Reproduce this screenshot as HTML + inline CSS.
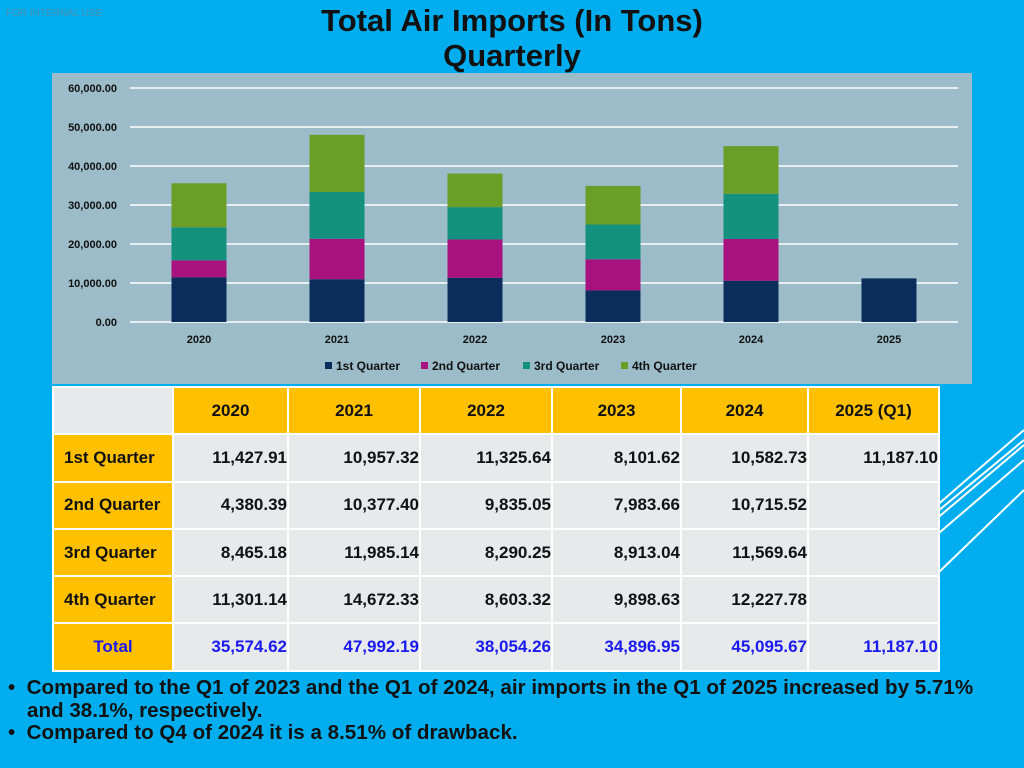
<!DOCTYPE html>
<html><head><meta charset="utf-8"><style>
body{margin:0;width:1024px;height:768px;background:#00AEEF;position:relative;overflow:hidden;font-family:"Liberation Sans",sans-serif}
.abs{position:absolute}
table{border-collapse:collapse;position:absolute;left:52px;top:386px;table-layout:fixed}
td{border:2px solid #fff;height:45.3px;font-weight:bold;font-size:17px;text-align:right;padding:0;background:#E8E9EB;color:#111}
td.h{background:#FFC000;text-align:center}
td.l{background:#FFC000;text-align:left;padding-left:10px}
tr.tot td{color:#1a1aee}
</style></head><body>
<div class="abs" style="left:6px;top:8px;font-size:10px;color:#4a8fb0">FOR INTERNAL USE</div>
<div class="abs" style="left:0;width:1024px;top:3px;text-align:center;font-size:31px;font-weight:bold;line-height:35px;color:#111">Total Air Imports (In Tons)<br>Quarterly</div>
<svg class="abs" style="left:0;top:0" width="1024" height="768">
<g stroke="#fff" stroke-width="2">
<line x1="910" y1="600" x2="1024" y2="490"/><line x1="925" y1="545" x2="1024" y2="460"/><line x1="915" y1="530" x2="1024" y2="440"/><line x1="920" y1="520" x2="1024" y2="430"/><line x1="935" y1="520" x2="1024" y2="445"/>
</g>
<rect x="52" y="73" width="920" height="311" fill="#9BBCC8"/>
<g id="plot"></g>
</svg>
<table>
<colgroup><col style="width:120px"><col style="width:115px"><col style="width:132px"><col style="width:132px"><col style="width:129px"><col style="width:127px"><col style="width:131px"></colgroup>
<tr><td style="background:#E8E9EB"></td><td class="h">2020</td><td class="h">2021</td><td class="h">2022</td><td class="h">2023</td><td class="h">2024</td><td class="h">2025 (Q1)</td></tr>
<tr><td class="l">1st Quarter</td><td>11,427.91</td><td>10,957.32</td><td>11,325.64</td><td>8,101.62</td><td>10,582.73</td><td>11,187.10</td></tr>
<tr><td class="l">2nd Quarter</td><td>4,380.39</td><td>10,377.40</td><td>9,835.05</td><td>7,983.66</td><td>10,715.52</td><td></td></tr>
<tr><td class="l">3rd Quarter</td><td>8,465.18</td><td>11,985.14</td><td>8,290.25</td><td>8,913.04</td><td>11,569.64</td><td></td></tr>
<tr><td class="l">4th Quarter</td><td>11,301.14</td><td>14,672.33</td><td>8,603.32</td><td>9,898.63</td><td>12,227.78</td><td></td></tr>
<tr class="tot"><td class="l" style="text-align:center;padding:0">Total</td><td>35,574.62</td><td>47,992.19</td><td>38,054.26</td><td>34,896.95</td><td>45,095.67</td><td>11,187.10</td></tr>
</table>
<div class="abs" style="left:8px;top:677px;font-size:20.6px;font-weight:bold;line-height:22.5px;color:#111">
<div style="padding-left:19px;text-indent:-19px">•&nbsp; Compared to the Q1 of 2023 and the Q1 of 2024, air imports in the Q1 of 2025 increased by 5.71%<br>and 38.1%, respectively.</div>
<div style="padding-left:19px;text-indent:-19px">•&nbsp; Compared to Q4 of 2024 it is a 8.51% of drawback.</div>
</div>
<script>
const categories=["2020","2021","2022","2023","2024","2025"];
const seriesNames=["1st Quarter","2nd Quarter","3rd Quarter","4th Quarter"];
const q1=[11427.91,10957.32,11325.64,8101.62,10582.73,11187.10];
const q2=[4380.39,10377.40,9835.05,7983.66,10715.52,0];
const q3=[8465.18,11985.14,8290.25,8913.04,11569.64,0];
const q4=[11301.14,14672.33,8603.32,9898.63,12227.78,0];
const yTicks=[0,10000,20000,30000,40000,50000,60000];
const colors=["#0B2D5B","#A8127F","#14907F","#6A9E27"];
const NS="http://www.w3.org/2000/svg";
const g=document.getElementById('plot');
const y=v=>322-v*(234/60000);
const x=i=>199+i*138;
function mk(t,a){const e=document.createElementNS(NS,t);for(const k in a)e.setAttribute(k,a[k]);g.appendChild(e);return e;}
yTicks.forEach(v=>{
 const l=mk('line',{x1:130,x2:958,y1:y(v),y2:y(v),stroke:'#fff','stroke-width':1.5});
 
 
 const t=mk('text',{x:117,y:y(v)+4,'text-anchor':'end','font-size':11,'font-weight':'bold',fill:'#111'});
 t.textContent=v.toLocaleString('en-US',{minimumFractionDigits:2});
 
 
});
const series=[q1,q2,q3,q4];
categories.forEach((c,i)=>{
 let base=0;
 series.forEach((s,j)=>{
  const v=s[i];
  if(v>0){const r=mk('rect',{x:x(i)-27.5,width:55,y:y(base+v),height:y(base)-y(base+v),fill:colors[j]});
  
  }
  base+=v;
 });
 const t=mk('text',{x:x(i),y:343,'text-anchor':'middle','font-size':11,'font-weight':'bold',fill:'#111'});
 t.textContent=c;
 
 
});
const lx=[325,421,523,621];
seriesNames.forEach((n,j)=>{
 const r=mk('rect',{x:lx[j],y:362,width:7,height:7,fill:colors[j]});
 
 
 const t=mk('text',{x:lx[j]+11,y:370,'font-size':12,'font-weight':'bold',fill:'#111'});
 t.textContent=n;
 
 
});
</script>
</body></html>
